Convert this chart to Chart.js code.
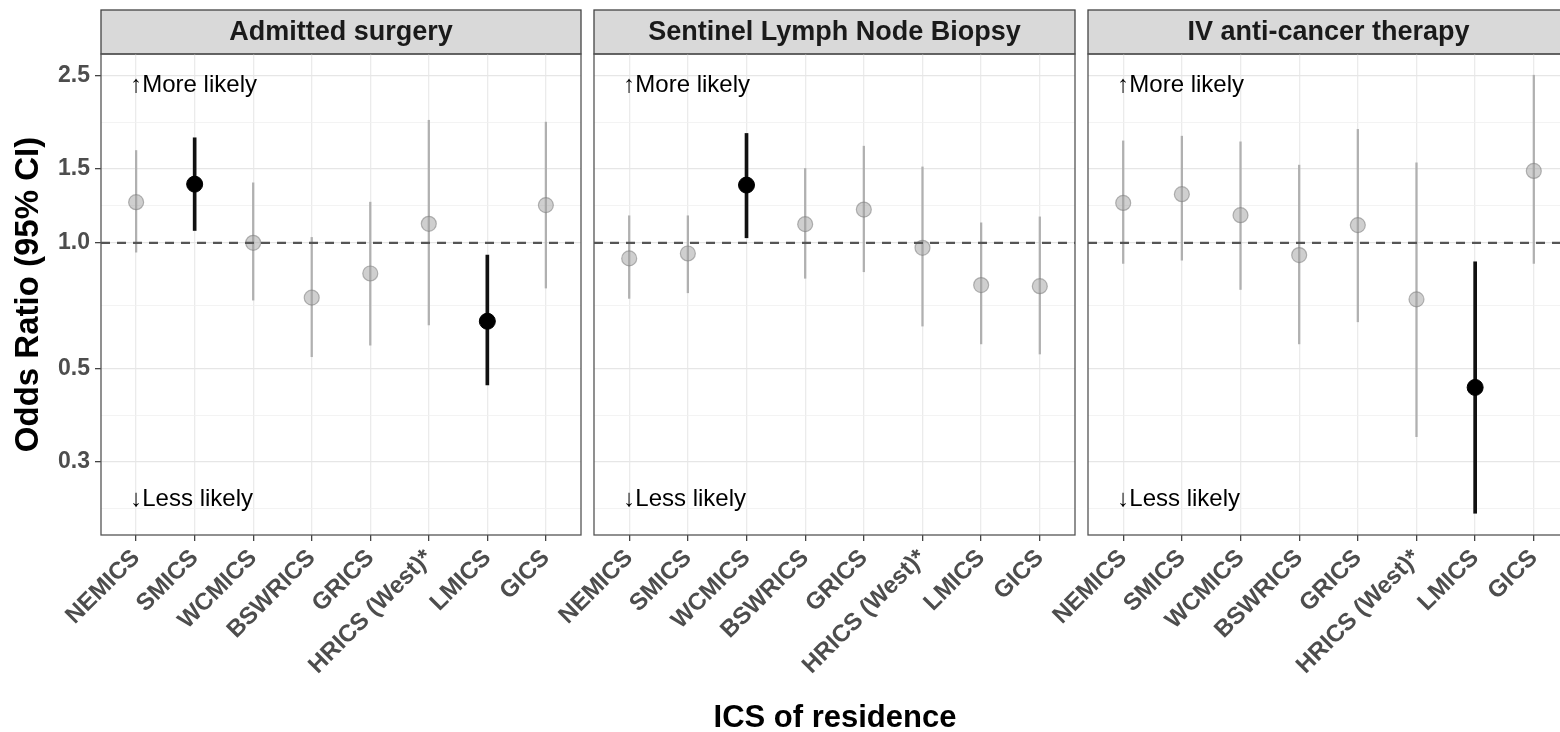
<!DOCTYPE html>
<html>
<head>
<meta charset="utf-8">
<script src="https://cdn.jsdelivr.net/npm/chart.js@4.4.1/dist/chart.umd.min.js"></script>
<style>
  html, body { margin: 0; padding: 0; background: #fff; }
  #wrap { position: relative; width: 1560px; height: 732px; overflow: hidden; }
  canvas { position: absolute; top: 0; }
  #xtitle { position: absolute; left: 100px; width: 1470px; top: 700px; text-align: center;
            font: bold 31px "Liberation Sans", Arial, sans-serif; line-height: 34px; color: #000; }
</style>
</head>
<body>
<div id="wrap">
  <canvas id="p0" width="590" height="732" style="left:0px"></canvas>
  <canvas id="p1" width="580" height="732" style="left:504px"></canvas>
  <canvas id="p2" width="580" height="732" style="left:998px"></canvas>
  <div id="xtitle">ICS of residence</div>
</div>
<script>
// === Data (odds ratios) ===
const CATEGORIES = ['NEMICS', 'SMICS', 'WCMICS', 'BSWRICS', 'GRICS', 'HRICS (West)*', 'LMICS', 'GICS'];
const PANEL_TITLES = ['Admitted surgery', 'Sentinel Lymph Node Biopsy', 'IV anti-cancer therapy'];

const SURGERY_OR  = [1.25, 1.38, 1.00, 0.74, 0.845, 1.11, 0.65, 1.23];
const SURGERY_LO  = [0.95, 1.07, 0.73, 0.535, 0.57, 0.637, 0.458, 0.78];
const SURGERY_HI  = [1.66, 1.78, 1.39, 1.03, 1.25, 1.96, 0.935, 1.94];
const SURGERY_SIG = [false, true, false, false, false, false, true, false];

const SLNB_OR  = [0.918, 0.943, 1.373, 1.108, 1.20, 0.973, 0.793, 0.788];
const SLNB_LO  = [0.737, 0.76, 1.028, 0.823, 0.853, 0.633, 0.574, 0.543];
const SLNB_HI  = [1.16, 1.16, 1.823, 1.504, 1.70, 1.517, 1.116, 1.153];
const SLNB_SIG = [false, false, true, false, false, false, false, false];

const SACT_OR  = [1.245, 1.306, 1.164, 0.935, 1.102, 0.733, 0.452, 1.484];
const SACT_LO  = [0.893, 0.909, 0.774, 0.574, 0.648, 0.345, 0.2265, 0.893];
const SACT_HI  = [1.75, 1.796, 1.741, 1.532, 1.864, 1.551, 0.901, 2.51];
const SACT_SIG = [false, false, false, false, false, false, true, false];

const Y_TICKS = [0.3, 0.5, 1.0, 1.5, 2.5];
const Y_MINOR = [0.232, 0.387, 0.707, 1.225, 1.936];
const Y_MIN = 0.201, Y_MAX = 2.82;
const REF_OR = 1;
const NOTE_UP = '\u2191More likely', NOTE_UP_Y = 2.38;
const NOTE_DOWN = '\u2193Less likely', NOTE_DOWN_Y = 0.245;
const NOTE_X = -0.1;

const FONT = '"Liberation Sans", Arial, sans-serif';

// strip, panel border, reference line and notes
const facetDecor = {
  id: 'facetDecor',
  beforeDraw(chart, args, opts) {
    const {ctx, chartArea: a} = chart;
    ctx.save();
    ctx.fillStyle = '#d9d9d9';
    ctx.fillRect(a.left, 10, a.right - a.left, a.top - 10);
    ctx.strokeStyle = '#444';
    ctx.lineWidth = 1.3;
    ctx.strokeRect(a.left, 10, a.right - a.left, a.top - 10);
    ctx.fillStyle = '#1a1a1a';
    ctx.font = 'bold 27px ' + FONT;
    ctx.textAlign = 'center';
    ctx.textBaseline = 'middle';
    ctx.fillText(opts.title, (a.left + a.right) / 2, (10 + a.top) / 2 + 1);
    ctx.restore();
  },
  afterDatasetsDraw(chart) {
    const {ctx, chartArea: a, scales: {x, y}} = chart;
    ctx.save();
    // reference line at OR = 1
    ctx.strokeStyle = '#555';
    ctx.lineWidth = 2.2;
    ctx.setLineDash([9, 7]);
    const yr = y.getPixelForValue(REF_OR);
    ctx.beginPath(); ctx.moveTo(a.left, yr); ctx.lineTo(a.right, yr); ctx.stroke();
    ctx.setLineDash([]);
    // notes
    ctx.fillStyle = '#000';
    ctx.font = '24px ' + FONT;
    ctx.textAlign = 'left';
    ctx.textBaseline = 'middle';
    ctx.fillText(NOTE_UP, x.getPixelForValue(NOTE_X), y.getPixelForValue(NOTE_UP_Y));
    ctx.fillText(NOTE_DOWN, x.getPixelForValue(NOTE_X), y.getPixelForValue(NOTE_DOWN_Y));
    // panel border
    ctx.strokeStyle = '#555';
    ctx.lineWidth = 1.3;
    ctx.strokeRect(a.left, a.top, a.right - a.left, a.bottom - a.top);
    ctx.restore();
  }
};

function makePanel(id, idx, or, lo, hi, sig) {
  const first = idx === 0;
  const pick = (want) => or.map((v, i) => i).filter(i => sig[i] === want);
  const bars = (want) => pick(want).map(i => ({x: i, y: [lo[i], hi[i]]}));
  const pts = (want) => pick(want).map(i => ({x: i, y: or[i]}));

  new Chart(document.getElementById(id), {
    type: 'scatter',
    data: {
      datasets: [
        {type: 'bar', data: bars(false), backgroundColor: '#b0b0b0', barThickness: 1.6, grouped: false, order: 4},
        {type: 'scatter', data: pts(false), pointRadius: 7.5, backgroundColor: 'rgba(160,160,160,0.5)',
         borderColor: 'rgba(125,125,125,0.55)', borderWidth: 1.2, order: 3},
        {type: 'bar', data: bars(true), backgroundColor: '#111', barThickness: 3, grouped: false, order: 2},
        {type: 'scatter', data: pts(true), pointRadius: 8, backgroundColor: '#000', borderColor: '#000', borderWidth: 1, order: 1}
      ]
    },
    options: {
      responsive: false,
      animation: false,
      devicePixelRatio: 1,
      layout: {padding: {left: first ? 0 : 90, right: 8, top: 54, bottom: 0}},
      plugins: {
        legend: {display: false},
        tooltip: {enabled: false},
        facetDecor: {title: PANEL_TITLES[idx]}
      },
      scales: {
        x: {
          type: 'linear', min: -0.6, max: 7.6, offset: false,
          afterBuildTicks: s => { s.ticks = CATEGORIES.map((_, i) => ({value: i})); },
          afterFit: s => { s.height = 732 - 54 - 481; },
          ticks: {
            autoSkip: false, minRotation: 45, maxRotation: 45, padding: 3,
            callback: v => CATEGORIES[v],
            color: '#4d4d4d', font: {family: FONT, size: 24, weight: 'bold'}
          },
          grid: {color: '#ebebeb', lineWidth: 1.3, tickLength: 6, tickColor: '#444', offset: false},
          border: {display: false}
        },
        y: {
          type: 'logarithmic', min: Y_MIN, max: Y_MAX, bounds: 'data', beginAtZero: false,
          afterBuildTicks: s => {
            s.ticks = [...Y_MINOR, ...Y_TICKS].sort((a, b) => a - b).map(v => ({value: v}));
          },
          afterFit: s => { s.width = first ? 101 : 0; },
          ticks: {
            display: first, autoSkip: false, padding: 5,
            callback: v => Y_TICKS.includes(v) ? v.toFixed(1) : '',
            color: '#4d4d4d', font: {family: FONT, size: 23, weight: 'bold'}
          },
          grid: {
            drawTicks: first, tickLength: 6,
            color: c => Y_TICKS.includes(c.tick.value) ? '#e6e6e6' : '#f0f0f0',
            lineWidth: c => Y_TICKS.includes(c.tick.value) ? 1.3 : 0.8,
            tickColor: c => Y_TICKS.includes(c.tick.value) ? '#444' : 'rgba(0,0,0,0)'
          },
          border: {display: false},
          title: {
            display: first, text: 'Odds Ratio (95% CI)', color: '#000',
            font: {family: FONT, size: 33, weight: 'bold'}, padding: {top: 9, bottom: 0}
          }
        }
      }
    },
    plugins: [facetDecor]
  });
}

makePanel('p0', 0, SURGERY_OR, SURGERY_LO, SURGERY_HI, SURGERY_SIG);
makePanel('p1', 1, SLNB_OR, SLNB_LO, SLNB_HI, SLNB_SIG);
makePanel('p2', 2, SACT_OR, SACT_LO, SACT_HI, SACT_SIG);
</script>
</body>
</html>
